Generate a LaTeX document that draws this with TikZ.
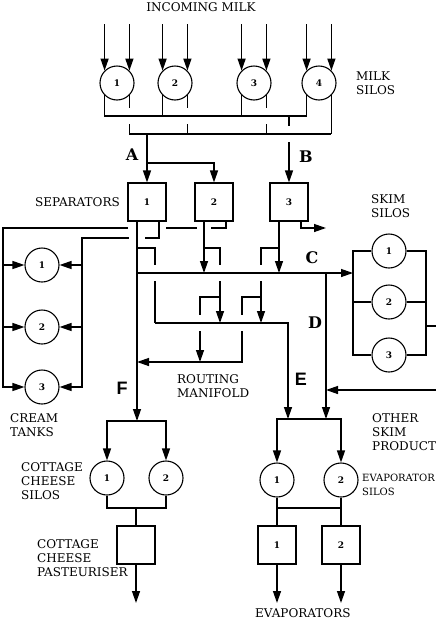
\documentclass[tikz,border=0pt]{standalone}
\usepackage{fontspec}
\setmainfont{DejaVu Serif}
\newfontfamily\tagsans{Liberation Sans}
\usetikzlibrary{arrows.meta,calc}

\tikzset{
  pipe/.style={line width=1.3pt},
  flow/.style={pipe,-{Triangle[length=12pt,width=8pt]}},
  silo/.style={circle,draw,line width=1.1pt,minimum size=34pt,inner sep=0pt,font=\fontsize{9}{9}\selectfont\bfseries},
  sepbox/.style={draw,line width=1.1pt,minimum size=38pt,inner sep=0pt,font=\fontsize{9}{9}\selectfont\bfseries},
  lbl/.style={align=left,inner sep=0pt,font=\fontsize{12}{14}\selectfont},
  letter/.style={inner sep=0pt,font=\fontsize{16}{16}\selectfont\bfseries},
  sfletter/.style={inner sep=0pt,font=\fontsize{18}{18}\selectfont\tagsans\bfseries},
}
% white patch where a pipe passes under another
\newcommand\vgap[1]{\fill[white] ($(#1)+(-3,-8)$) rectangle ($(#1)+(3,8)$);}
\newcommand\hgap[2]{\fill[white] ($(#1)+(-#2,-3)$) rectangle ($(#1)+(#2,3)$);}

\begin{document}
\begin{tikzpicture}[x=1pt,y=1pt,yscale=-1]
\useasboundingbox (0,0) rectangle (436,619);

% levels
\coordinate (top) at (0,24);
\coordinate (h1) at (0,116);
\coordinate (h2) at (0,134);
\coordinate (yA) at (0,163);
\coordinate (yo) at (0,228);
\coordinate (yi) at (0,238);
\coordinate (yb) at (0,248);
\coordinate (yc) at (0,273);
\coordinate (yt) at (0,297);
\coordinate (yr) at (0,323);
\coordinate (yl) at (0,362);
\coordinate (ye) at (0,419);
\coordinate (yf) at (0,421);
\coordinate (yj) at (0,508);
\coordinate (yout) at (0,603);
% columns
\coordinate (ko) at (3,0);
\coordinate (ki) at (82,0);
\coordinate (b1) at (155,0);
\coordinate (b4) at (200,0);
\coordinate (b2) at (220,0);
\coordinate (b5) at (242,0);
\coordinate (b3) at (261,0);
\coordinate (el) at (288,0);
\coordinate (dl) at (326,0);
\coordinate (kl) at (353,0);
\coordinate (kr) at (426,0);
\coordinate (osp) at (436,390);
\coordinate (skout) at (436,326);

% units
\node[silo] (m1) at (117,83) {1};
\node[silo] (m2) at (175,83) {2};
\node[silo] (m3) at (254,83) {3};
\node[silo] (m4) at (319,83) {4};
\node[sepbox] (s1) at (147,202) {1};
\node[sepbox] (s2) at (214,202) {2};
\node[sepbox] (s3) at (289,202) {3};
\node[silo] (t1) at (42,265) {1};
\node[silo] (t2) at (42,327) {2};
\node[silo] (t3) at (42,387) {3};
\node[silo] (k1) at (389,251) {1};
\node[silo] (k2) at (389,302) {2};
\node[silo] (k3) at (389,355) {3};
\node[silo] (c1) at (107,478) {1};
\node[silo] (c2) at (166,478) {2};
\node[sepbox] (cp) at (136,545) {};
\node[silo] (v1) at (277,480) {1};
\node[silo] (v2) at (341,480) {2};
\node[sepbox] (e1) at (277,545) {1};
\node[sepbox] (e2) at (341,545) {2};

\coordinate (s1k) at ([xshift=-10pt]s1.south);
\coordinate (s1c) at ([xshift=12pt]s1.south);
\coordinate (s2k) at ([xshift=-10pt]s2.south);
\coordinate (s2c) at ([xshift=12pt]s2.south);
\coordinate (s3k) at ([xshift=-10pt]s3.south);
\coordinate (s3o) at ([xshift=12pt]s3.south);

% labels
\node[lbl,anchor=base] (incoming) at (201,11) {INCOMING MILK};
\node[lbl,anchor=west] (milklbl) at (356,83) {MILK\\SILOS};
\node[lbl,anchor=east] (seplbl) at (120,202) {SEPARATORS};
\node[lbl,anchor=west] (skimlbl) at (371,206) {SKIM\\SILOS};
\node[lbl,anchor=west] (creamlbl) at (10,425) {CREAM\\TANKS};
\node[lbl,anchor=west] (routelbl) at (177,386) {ROUTING\\MANIFOLD};
\node[lbl,anchor=west] (otherlbl) at (372,432) {OTHER\\SKIM\\PRODUCT};
\node[lbl,anchor=west] (cottlbl) at (21,481) {COTTAGE\\CHEESE\\SILOS};
\node[lbl,anchor=west] (pastlbl) at (37,558) {COTTAGE\\CHEESE\\PASTEURISER};
\node[lbl,anchor=west,font=\fontsize{10}{14}\selectfont] (evaplbl) at (362,485) {EVAPORATOR\\SILOS};
\node[lbl,anchor=base west] (evapslbl) at (255,617) {EVAPORATORS};
\node[letter] (tagA) at (132,155) {A};
\node[letter] (tagB) at (306,157) {B};
\node[letter] (tagC) at (312,258) {C};
\node[letter] (tagD) at (315,323) {D};
\node[sfletter] (tagE) at (301,379) {E};
\node[sfletter] (tagF) at (122,388) {F};

% incoming milk
\foreach \m in {m1,m2,m3,m4}{
  \draw[flow] (\m.135 |- top) -- (\m.135);
  \draw[flow] (\m.45 |- top) -- (\m.45);
}

% pipes that pass underneath
\foreach \m in {m1,m2,m3,m4}
  \draw[pipe] (\m.315) -- (\m.315 |- h2);
\draw[flow] (s3 |- h1) -- (s3.north);
\draw[flow] (s2c) |- (ko |- yo) |- (t3.west);
\draw[flow] (ko |- t1) -- (t1.west);
\draw[flow] (ko |- t2) -- (t2.west);
\draw[pipe] (s1k |- yb) -| (b1 |- yr);
\draw[flow] (s2k |- yb) -| (b2 |- yr);
\draw[flow] (b2 |- yt) -| (b4 |- yl);
\draw[flow] (s3k |- yb) -| (b3 |- yr);
\draw[flow] (b3 |- yt) -| (b5 |- yl) -- (s1k |- yl);

\vgap{m1.315 |- h1}
\vgap{m2.315 |- h1}
\vgap{m3.315 |- h1}
\vgap{s3 |- h2}
\vgap{b1 |- yc}
\vgap{b2 |- yc}
\vgap{b3 |- yc}
\vgap{b4 |- yr}
\vgap{b5 |- yr}
\hgap{s1 |- yo}{19}
\hgap{s2k |- yo}{7}

\draw[flow] (s1c) |- (ki |- yi) |- (t3.east);
\draw[flow] (ki |- t1) -- (t1.east);
\draw[flow] (ki |- t2) -- (t2.east);
\hgap{s1k |- yi}{8}

% headers from milk silos
\draw[pipe] (m1.225) |- (m4.225 |- h1) -- (m4.225);
\draw[pipe] (m2.225) -- (m2.225 |- h1);
\draw[pipe] (m3.225) -- (m3.225 |- h1);
\draw[pipe] (m1.315 |- h2) -- (m4.315 |- h2);
\draw[flow] (s1 |- h2) -- (s1.north);
\draw[flow] (s1 |- yA) -| (s2.north);

% separator outlets
\draw[flow] (s1k) -- (s1k |- yf);
\draw[flow] (s2k) -- (s2k |- yc);
\draw[flow] (s3k) -- (s3k |- yc);
\draw[flow] (s3o) |- (dl |- yo);
\draw[flow] (s1k |- yc) -- (kl |- yc);
\draw[flow] (dl |- yc) -- (dl |- ye);
\draw[flow] (osp) -- (dl |- osp);
\draw[flow] (b1 |- yr) -| (el |- ye);

% skim silos
\draw[pipe] (k1.west) -| (kl |- k3) -- (k3.west);
\draw[pipe] (k2.west) -- (kl |- k2);
\draw[pipe] (k1.east) -| (kr |- k3) -- (k3.east);
\draw[pipe] (k2.east) -- (kr |- k2);
\draw[pipe] (kr |- skout) -- (skout);

% cottage cheese line
\draw[flow] (s1k |- yf) -| (c1.north);
\draw[flow] (s1k |- yf) -| (c2.north);
\draw[pipe] (c1.south) |- (c2 |- yj) -- (c2.south);
\draw[pipe] (cp |- yj) -- (cp.north);
\draw[flow] (cp.south) -- (cp |- yout);

% evaporator line
\draw[flow] (el |- ye) -| (v1.north);
\draw[flow] (el |- ye) -| (v2.north);
\draw[pipe] (v1.south) -- (e1.north);
\draw[pipe] (v2.south) -- (e2.north);
\draw[pipe] (v1 |- yj) -- (v2 |- yj);
\draw[flow] (e1.south) -- (e1 |- yout);
\draw[flow] (e2.south) -- (e2 |- yout);

\end{tikzpicture}
\end{document}
